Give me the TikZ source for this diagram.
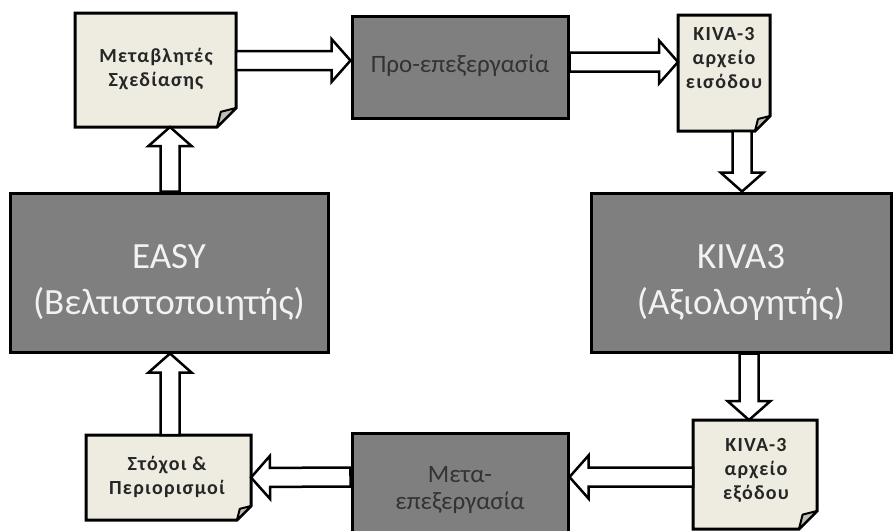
\documentclass[tikz,border=0pt]{standalone}
\usepackage{fontspec}
\setmainfont{Carlito}
\newfontfamily\notefont[LetterSpace=6]{Carlito}
\usetikzlibrary{calc,backgrounds}
\definecolor{notefill}{HTML}{EEECE1}
\definecolor{flapfill}{HTML}{BEBDB4}
\definecolor{boxfill}{HTML}{7F7F7F}
\definecolor{darktext}{HTML}{262626}
\definecolor{boxtext}{HTML}{333333}
\definecolor{lighttext}{HTML}{F2F2F2}
\tikzset{
  procbox/.style={draw=black, line width=3pt, fill=boxfill, inner sep=0pt},
  noteshape/.style={draw=black, line width=3pt, fill=notefill, line join=miter},
  flapshape/.style={draw=black, line width=2pt, fill=flapfill, line join=round},
  notearea/.style={inner sep=0pt, outer sep=0pt},
  notetext/.style={inner sep=0pt, align=center, text=darktext, font=\fontsize{20}{24}\notefont\bfseries},
  smalltext/.style={inner sep=0pt, align=center, text=boxtext, font=\fontsize{25}{27}\selectfont},
  bigtext/.style={inner sep=0pt, align=center, text=lighttext, font=\fontsize{37}{46}\selectfont},
  blockarrow/.style={draw=black, line width=2.5pt, fill=white, line join=miter},
}
% note with folded corner around node #1, fold size #2
\newcommand\drawnote[2]{%
  \begin{scope}[on background layer]
    \draw[noteshape] (#1.north west) -- (#1.north east) -- ([yshift=#2]#1.south east)
      -- ([xshift=-#2]#1.south east) -- (#1.south west) -- cycle;
    \draw[flapshape] ([xshift=-#2]#1.south east) -- ([xshift=-0.8*#2,yshift=0.8*#2]#1.south east)
      -- ([yshift=#2]#1.south east) -- cycle;
  \end{scope}}
% block arrow from tail #1 to tip #2
\newcommand\blockarrow[2]{%
  \draw[blockarrow] let \p3=($(#2)!19pt!(#1)$) in
    ($(#1)!9.5pt!90:(#2)$) -- ($(\p3)!9.5pt!90:(#2)$) -- ($(\p3)!21.5pt!90:(#2)$) -- (#2)
    -- ($(\p3)!21.5pt!-90:(#2)$) -- ($(\p3)!9.5pt!-90:(#2)$) -- ($(#1)!9.5pt!-90:(#2)$) -- cycle;}
\begin{document}
\begin{tikzpicture}[x=1pt,y=-1pt]
\useasboundingbox (0,0) rectangle (894,530);
% process boxes
\node[procbox, minimum width=216pt, minimum height=102pt] (pre) at (460,67) {};
\node[procbox, minimum width=216pt, minimum height=102pt] (post) at (460,484) {};
\node[procbox, minimum width=318pt, minimum height=159pt] (easy) at (169,272.5) {};
\node[procbox, minimum width=300pt, minimum height=159pt] (kiva) at (741,272.5) {};
\node[smalltext] (pret) at (460,66) {Προ-επεξεργασία};
\node[smalltext] (postt) at (460,490) {Μετα-\\επεξεργασία};
\node[bigtext] (easyt) at (169,282) {EASY\\(Βελτιστοποιητής)};
\node[bigtext] (kivat) at (741,282) {KIVA3\\(Αξιολογητής)};
% notes
\node[notearea, minimum width=161pt, minimum height=114pt] (mv) at (155.5,70) {};
\node[notearea, minimum width=92pt, minimum height=116pt] (kin) at (724,73) {};
\node[notearea, minimum width=124pt, minimum height=109pt] (kout) at (755,474.5) {};
\node[notearea, minimum width=165pt, minimum height=85pt] (goal) at (168.5,477.5) {};
\drawnote{mv}{19pt}
\drawnote{kin}{15pt}
\drawnote{kout}{18pt}
\drawnote{goal}{14pt}
\node[notetext] (mvt) at (156,69) {Μεταβλητές\\Σχεδίασης};
\node[notetext] (kint) at (724,58) {KIVA-3\\αρχείο\\εισόδου};
\node[notetext] (koutt) at (756,470) {KIVA-3\\αρχείο\\εξόδου};
\node[notetext] (goalt) at (167,476.5) {Στόχοι \&\\Περιορισμοί};
% block arrows
\blockarrow{[yshift=9.5pt]mv.east}{[yshift=6.5pt]pre.west}
\blockarrow{[yshift=5pt]pre.east}{[yshift=11pt]kin.west}
\blockarrow{[xshift=18pt]kin.south}{[xshift=1pt]kiva.north}
\blockarrow{[xshift=8pt]kiva.south}{[xshift=-6pt]kout.north}
\blockarrow{[yshift=-2.5pt]kout.west}{[yshift=7pt]post.east}
\blockarrow{[yshift=7pt]post.west}{goal.east}
\blockarrow{[xshift=1.5pt]goal.north}{[xshift=1pt]easy.south}
\blockarrow{[xshift=1pt]easy.north}{[xshift=14.5pt]mv.south}
\end{tikzpicture}
\end{document}
